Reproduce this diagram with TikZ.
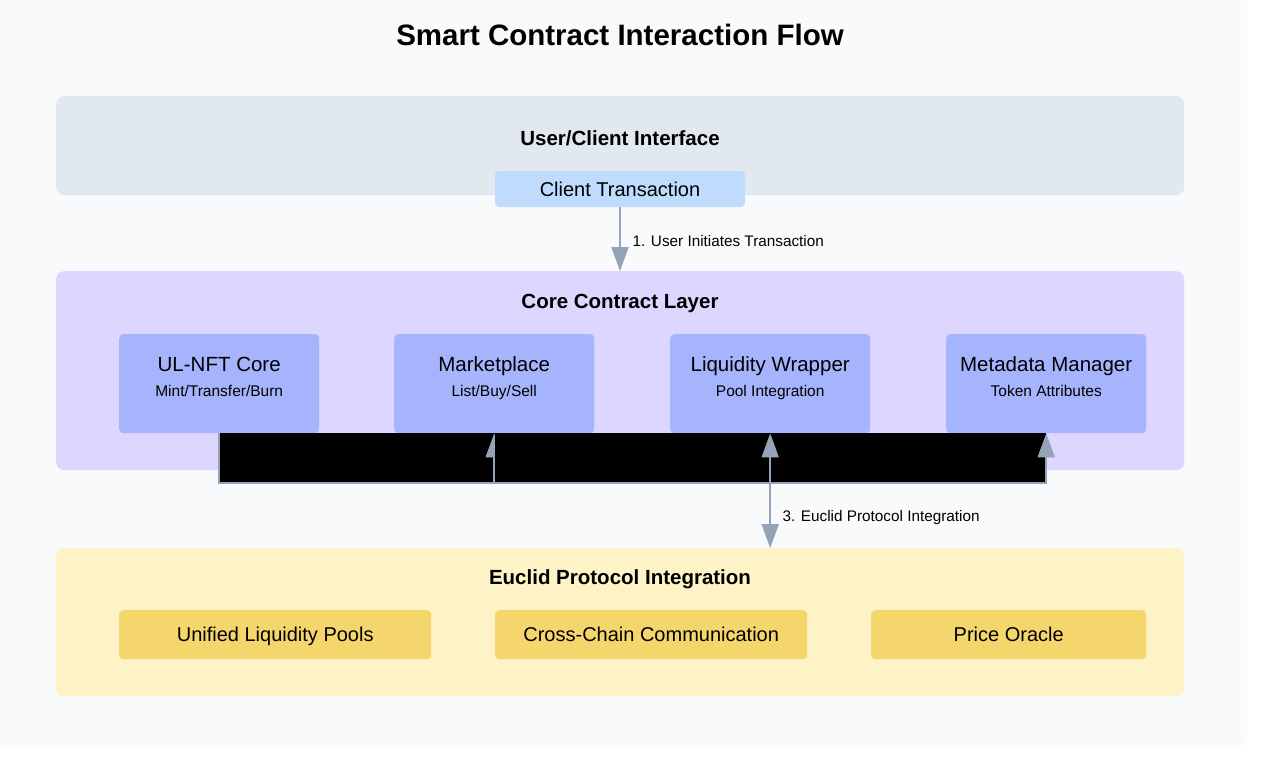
\documentclass[tikz,border=0pt]{standalone}
\usepackage{fontspec}
\setmainfont{Liberation Sans}
\usetikzlibrary{arrows.meta,calc}
\definecolor{bgc}{HTML}{F8FAFC}
\definecolor{grayc}{HTML}{E2E8F0}
\definecolor{clientc}{HTML}{BFDBFE}
\definecolor{purpc}{HTML}{DDD6FE}
\definecolor{indc}{HTML}{A5B4FC}
\definecolor{yelc}{HTML}{FEF3C7}
\definecolor{yelbox}{HTML}{F5D66C}
\definecolor{arrc}{HTML}{94A3B8}
\tikzset{
  section/.style={draw=none, rounded corners=8pt, inner sep=0pt, anchor=north west},
  compbox/.style={fill=indc, rounded corners=4pt, minimum width=200pt, minimum height=99pt, inner sep=0pt, anchor=north west},
  boxfont/.style={text height=14.3pt, text depth=0pt, font=\fontsize{20}{24}\selectfont},
  ybox/.style={fill=yelbox, rounded corners=4pt, minimum height=49pt, inner sep=0pt, anchor=north west, boxfont},
  sectitle/.style={text height=14.7pt, text depth=0pt, font=\bfseries\fontsize{20.5}{24}\selectfont},
  comptitle/.style={text height=14.7pt, text depth=0pt, font=\fontsize{20.5}{24}\selectfont},
  compsub/.style={text height=11.1pt, text depth=0pt, font=\fontsize{15.5}{18}\selectfont},
  lbl/.style={text height=11pt, text depth=0pt, font=\fontsize{15.3}{18}\selectfont, anchor=west},
  conn/.style={draw=arrc, line width=2pt},
  tip/.style={-{Triangle[width=17pt,length=24pt]}},
}
\begin{document}
\begin{tikzpicture}[x=1pt,y=-1pt]
\useasboundingbox (0,0) rectangle (1274,758);
\fill[bgc, rounded corners=12pt] (-20,-20) rectangle (1247,747);
\node[text height=21.1pt, text depth=0pt, font=\bfseries\fontsize{29.5}{35}\selectfont] (title) at (620,35) {Smart Contract Interaction Flow};

% sections
\node[section, fill=grayc, minimum width=1128pt, minimum height=99pt] (usersec) at (56,96) {};
\node[sectitle] (usertitle) at (620,138) {User/Client Interface};
\node[fill=clientc, rounded corners=4pt, minimum width=250pt, minimum height=36pt, inner sep=0pt, boxfont] (client) at (620,189) {Client Transaction};

\node[section, fill=purpc, minimum width=1128pt, minimum height=199pt] (coresec) at (56,271) {};
\node[sectitle] (coretitle) at (620,301) {Core Contract Layer};

\node[compbox] (ulnft) at (119,334) {};
\node[compbox] (market) at (394,334) {};
\node[compbox] (liq) at (670,334) {};
\node[compbox] (meta) at (946,334) {};
\foreach \n/\a/\b in {ulnft/UL-NFT Core/Mint\slash Transfer\slash Burn, market/Marketplace/List\slash Buy\slash Sell, liq/Liquidity Wrapper/Pool Integration, meta/Metadata Manager/Token Attributes}{
  \node[comptitle] at ([yshift=-30pt]\n.north) {\a};
  \node[compsub] at ([yshift=-57pt]\n.north) {\b};
}

\node[section, fill=yelc, minimum width=1128pt, minimum height=148pt] (eucsec) at (56,548) {};
\node[sectitle] (euctitle) at (620,577) {Euclid Protocol Integration};
\node[ybox, minimum width=312pt] (pools) at (119,610) {Unified Liquidity Pools};
\node[ybox, minimum width=312pt] (cross) at (495,610) {Cross-Chain Communication};
\node[ybox, minimum width=275pt] (oracle) at (871,610) {Price Oracle};

% connectors
\draw[conn, tip] (client.south) -- (client.south |- coresec.north);
\node[lbl] (l1) at (629,241) {1. User Initiates Transaction};

\coordinate (bl) at ($(ulnft.south)+(0,50)$);
\fill[black] (ulnft.south) rectangle (meta.south |- bl);
\draw[conn, tip] (ulnft.south) -- (bl) -| (meta.south);
\draw[conn, tip] (market.south |- bl) -- (market.south);
\fill[black] ($(market.south)+(1,0)$) rectangle ++(10,26);
\draw[conn, {Triangle[width=17pt,length=24pt]}-{Triangle[width=17pt,length=24pt]}] (liq.south) -- (liq.south |- eucsec.north);
\node[lbl] (l3) at (779,516) {3. Euclid Protocol Integration};
\end{tikzpicture}
\end{document}
